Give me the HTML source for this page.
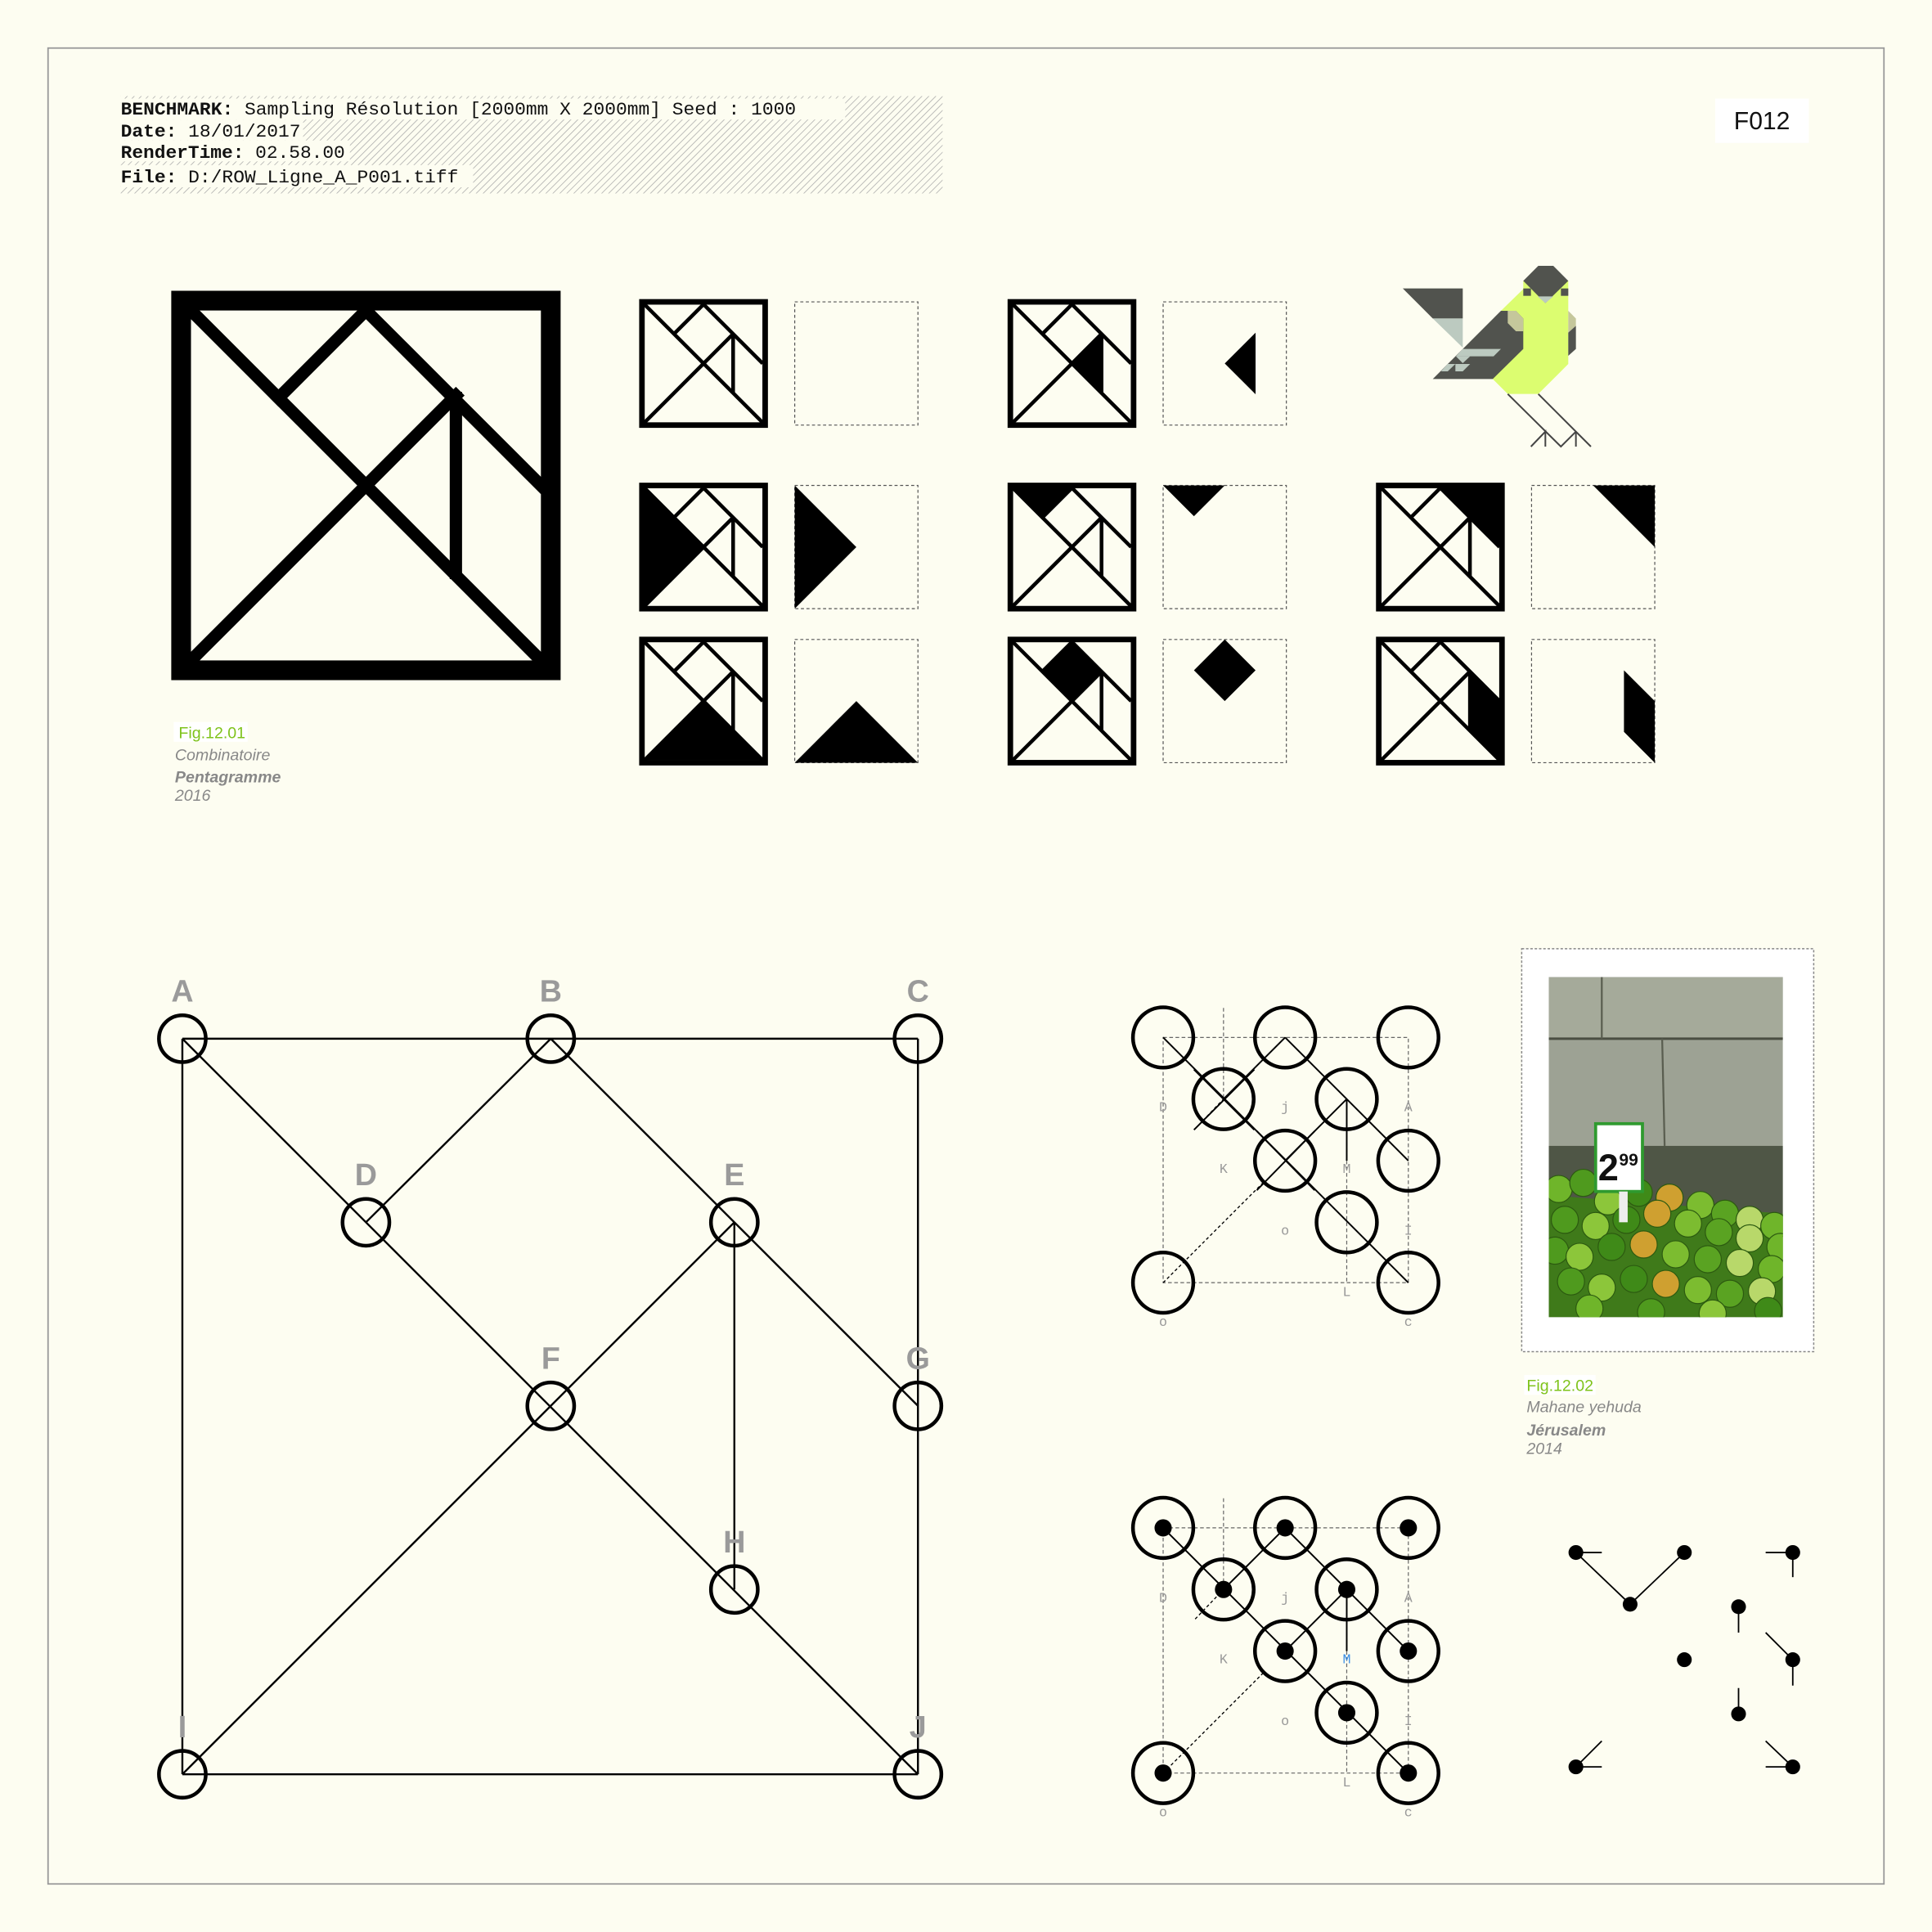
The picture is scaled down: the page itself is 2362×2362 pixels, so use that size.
<!DOCTYPE html>
<html><head><meta charset="utf-8"><style>
html,body{margin:0;padding:0;background:#fdfdf1}
svg{display:block}
.mono{font-family:"Liberation Mono",monospace}
.nar{font-family:"Liberation Sans Narrow","Liberation Sans",sans-serif}
</style></head><body>
<svg id="s" width="2362" height="2362" viewBox="0 0 1568 1568" xmlns="http://www.w3.org/2000/svg">
<defs>
<pattern id="hatch" width="4" height="4" patternUnits="userSpaceOnUse" patternTransform="rotate(45)">
<rect width="4" height="4" fill="#fdfdf1"/><line x1="0" y1="0" x2="0" y2="4" stroke="#aaa" stroke-width="1"/>
</pattern>
<clipPath id="photoclip"><rect x="1257" y="793" width="190" height="276"/></clipPath>
</defs>
<rect x="0" y="0" width="1568" height="1568" fill="#fdfdf1"/>
<rect x="39" y="39" width="1490" height="1490" fill="none" stroke="#9a9a9a" stroke-width="1.2"/>

<g>
<rect x="98" y="78" width="667" height="79" fill="url(#hatch)"/>
<rect x="98" y="80" width="588" height="17" fill="#fdfdf1"/>
<rect x="98" y="97" width="148" height="17" fill="#fdfdf1"/>
<rect x="98" y="114" width="186" height="17" fill="#fdfdf1"/>
<rect x="98" y="134" width="286" height="18" fill="#fdfdf1"/>
<g class="mono" font-size="14.5" fill="#111">
<text x="98" y="93" textLength="548" lengthAdjust="spacingAndGlyphs"><tspan font-weight="bold">BENCHMARK:</tspan> Sampling Résolution [2000mm X 2000mm] Seed : 1000</text>
<text x="98" y="111" textLength="146" lengthAdjust="spacingAndGlyphs"><tspan font-weight="bold">Date:</tspan> 18/01/2017</text>
<text x="98" y="128" textLength="182" lengthAdjust="spacingAndGlyphs"><tspan font-weight="bold">RenderTime:</tspan> 02.58.00</text>
<text x="98" y="148" textLength="274" lengthAdjust="spacingAndGlyphs"><tspan font-weight="bold">File:</tspan> D:/ROW_Ligne_A_P001.tiff</text>
</g>
</g>
<rect x="1392" y="80" width="76" height="36" fill="#fff"/>
<text x="1430" y="105" text-anchor="middle" class="nar" font-size="20" fill="#111">F012</text>

<g id="bigtangram">
<rect x="147" y="244" width="300" height="300" fill="none" stroke="#000" stroke-width="16"/>
<g stroke="#000" stroke-width="10" fill="none" stroke-linecap="square">
<line x1="155" y1="252" x2="439" y2="536"/>
<line x1="155" y1="536" x2="370" y2="321"/>
<line x1="226" y1="323" x2="297" y2="252"/>
<line x1="297" y1="252" x2="439" y2="394"/>
<line x1="370" y1="323" x2="370" y2="465"/>
</g>
</g>

<g class="nar">
<rect x="141" y="586" width="60" height="16" fill="#fff"/>
<text x="145" y="599" font-size="13" fill="#7fc31c">Fig.12.01</text>
<text x="142" y="617" font-size="13" font-style="italic" fill="#888">Combinatoire</text>
<text x="142" y="635" font-size="13" font-style="italic" font-weight="bold" fill="#888">Pentagramme</text>
<text x="142" y="650" font-size="13" font-style="italic" fill="#888">2016</text>
</g>
<g id="icons"></g>

<g transform="scale(0.66384) translate(1700,300) scale(0.33333)">
<polygon points="45,158 265,158 265,268 155,268" fill="#51534e"/>
<polygon points="155,268 265,268 265,375" fill="#bccac0"/>
<polygon points="405,240 487,160 487,130 652,130 652,435 542,545 430,545 375,490" fill="#dcfd70"/>
<polygon points="487,130 542,75 597,75 652,130 568,212" fill="#51534e"/>
<polygon points="540,187 597,187 568,212" fill="#bccac0"/>
<rect x="487" y="158" width="28" height="27" fill="#51534e"/>
<rect x="625" y="158" width="27" height="27" fill="#51534e"/>
<polygon points="155,490 405,240 460,240 487,268 487,380 375,490" fill="#51534e"/>
<polygon points="430,240 460,240 487,268 487,315 460,315 430,285" fill="#c5c79b"/>
<polygon points="652,240 680,268 680,295 652,320" fill="#c5c79b"/>
<polygon points="652,320 680,295 680,380 652,405" fill="#51534e"/>
<polygon points="265,380 405,380 378,407 240,407" fill="#bccac0"/>
<polygon points="240,407 292,407 265,432" fill="#bccac0"/>
<polygon points="210,435 238,435 210,462 185,462" fill="#bccac0"/>
<polygon points="238,435 292,435 265,462 238,462" fill="#bccac0"/>
<g stroke="#444" stroke-width="6" fill="none">
<polyline points="430,545 625,738 680,683"/>
<line x1="542" y1="545" x2="735" y2="738"/>
<polyline points="515,738 568,683 568,738"/>
<line x1="680" y1="683" x2="680" y2="738"/>
</g>
</g>

<g id="graph"></g>
<g id="mini1"></g>
<g id="mini2"></g>

<g>
<rect x="1235" y="770" width="237" height="327" fill="#fff" stroke="#888" stroke-width="1" stroke-dasharray="2,1.5"/>
<g clip-path="url(#photoclip)">
<rect x="1257" y="793" width="190" height="276" fill="#9da294"/>
<rect x="1257" y="793" width="190" height="50" fill="#a5aa9a"/>
<line x1="1257" y1="843" x2="1447" y2="843" stroke="#4a4e42" stroke-width="2"/>
<line x1="1349" y1="843" x2="1351" y2="930" stroke="#5a5e50" stroke-width="1.5"/>
<line x1="1300" y1="793" x2="1300" y2="843" stroke="#5a5e50" stroke-width="1.5"/>
<rect x="1257" y="930" width="190" height="70" fill="#4f5646"/>
<polygon points="1257,970 1447,985 1447,1069 1257,1069" fill="#3f7a1a"/>
<g id="apples"></g>
<rect x="1295" y="912" width="38" height="55" fill="#fff" stroke="#2f9a2f" stroke-width="2.5"/>
<text x="1297" y="958" font-family="Liberation Sans" font-weight="bold" font-size="30" fill="#111">2</text>
<text x="1314" y="946" font-family="Liberation Sans" font-weight="bold" font-size="14" fill="#111">99</text>
<rect x="1314" y="967" width="7" height="25" fill="#eee"/>
</g>
</g>
<g class="nar">
<rect x="1237" y="1116" width="58" height="16" fill="#fff"/>
<text x="1239" y="1129" font-size="13" fill="#7fc31c">Fig.12.02</text>
<text x="1239" y="1146" font-size="13" font-style="italic" fill="#888">Mahane yehuda</text>
<text x="1239" y="1165" font-size="13" font-style="italic" font-weight="bold" fill="#888">Jérusalem</text>
<text x="1239" y="1180" font-size="13" font-style="italic" fill="#888">2014</text>
</g>
<g id="dots"></g>
</svg>
<script>
var NS="http://www.w3.org/2000/svg";
function mk(p,t,a){var e=document.createElementNS(NS,t);for(var k in a)e.setAttribute(k,a[k]);p.appendChild(e);return e;}
// tangram icons
var icols=[519,818,1117], irows=[243,392,517];
var iconFills=[[null,"tri-small",null],["tri-left","tri-top","tri-topright"],["tri-bottom","square","para"]];
var shapes={"tri-small":[[.5,.5],[.75,.25],[.75,.75]],"tri-left":[[0,0],[.5,.5],[0,1]],"tri-top":[[0,0],[.5,0],[.25,.25]],"tri-topright":[[.5,0],[1,0],[1,.5]],"tri-bottom":[[0,1],[.5,.5],[1,1]],"square":[[.25,.25],[.5,0],[.75,.25],[.5,.5]],"para":[[.75,.25],[1,.5],[1,1],[.75,.75]]};
var icons=document.getElementById('icons');
for(var r=0;r<3;r++)for(var c=0;c<3;c++){
 if(r==0&&c==2)continue;
 var x0=icols[c],y0=irows[r],f=iconFills[r][c];
 var g=mk(icons,'g',{});
 
 
 var ox=x0+4,oy=y0+4,s=96;
 function P(pt,bx,by,ss){return (bx+pt[0]*ss)+','+(by+pt[1]*ss);}
 if(f)mk(g,'polygon',{points:shapes[f].map(function(p){return P(p,ox,oy,s)}).join(' '),fill:'#000'});
 mk(g,'rect',{x:x0+2,y:y0+2,width:100,height:100,fill:'none',stroke:'#000','stroke-width':4.5});
 var L=[[[0,0],[1,1]],[[0,1],[.75,.25]],[[.25,.25],[.5,0]],[[.5,0],[1,.5]],[[.75,.25],[.75,.75]]];
 L.forEach(function(l){mk(g,'line',{x1:ox+l[0][0]*s,y1:oy+l[0][1]*s,x2:ox+l[1][0]*s,y2:oy+l[1][1]*s,stroke:'#000','stroke-width':3});});
 var d=mk(icons,'g',{});
 
 
 var dx=x0+126,dy=y0+2;
 mk(d,'rect',{x:dx,y:dy,width:100,height:100,fill:'none',stroke:'#555','stroke-width':0.8,'stroke-dasharray':'2.5,2'});
 if(f){var pts=shapes[f];if(f=="tri-small")pts=[[.5,.5],[.75,.25],[.75,.75]];
  mk(d,'polygon',{points:pts.map(function(p){return P(p,dx,dy,100)}).join(' '),fill:'#000'});}
}
// node graph
var nodeNames=["A","B","C","D","E","F","G","H","I","J"];
var nodeX=[148,447,745,297,596,447,745,596,148,745];
var nodeY=[843,843,843,992,992,1141,1141,1290,1440,1440];
var edges=[["A","C"],["C","J"],["J","I"],["I","A"],["A","J"],["B","D"],["B","G"],["E","I"],["E","H"]];
var gr=document.getElementById('graph');
function idx(n){return nodeNames.indexOf(n);}
edges.forEach(function(e){var a=idx(e[0]),b=idx(e[1]);
 var l=mk(gr,'line',{x1:nodeX[a],y1:nodeY[a],x2:nodeX[b],y2:nodeY[b],stroke:'#000','stroke-width':1.6});
 
 });
nodeNames.forEach(function(n,i){
 var c=mk(gr,'circle',{cx:nodeX[i],cy:nodeY[i],r:19,fill:'none',stroke:'#000','stroke-width':3});
 
 
 var t=mk(gr,'text',{x:nodeX[i],y:nodeY[i]-30,'text-anchor':'middle','font-family':'Liberation Sans','font-weight':'bold','font-size':25,fill:'#9a9a9a'});
 t.textContent=n;
 
 });
// mini circle grids
var mx=[944,1043,1143,993,1093,1043,1143,1093,944,1143];
var my=[0,0,0,50,50,100,100,150,199,199];
var lbl=["D","j","A","K","M","o","I","L","o","c"];
var lx=[944,1043,1143,993,1093,1043,1143,1093,944,1143];
var ly=[56,56,56,106,106,156,156,206,230,230];
function mini(id,oy,filled){
 var g=document.getElementById(id);
 mk(g,'rect',{x:944,y:842+oy,width:199,height:199,fill:'none',stroke:'#666','stroke-width':0.8,'stroke-dasharray':'3,2'});
 mk(g,'line',{x1:993,y1:818+oy,x2:993,y2:892+oy,stroke:'#666','stroke-width':0.8,'stroke-dasharray':'3,2'});
 mk(g,'line',{x1:1093,y1:892+oy,x2:1093,y2:1041+oy,stroke:'#666','stroke-width':0.8,'stroke-dasharray':'3,2'});
 mk(g,'line',{x1:944,y1:1041+oy,x2:1025,y2:960+oy,stroke:'#000','stroke-width':0.9,'stroke-dasharray':'2.5,2'});
 mk(g,'line',{x1:970,y1:916+oy,x2:993,y2:892+oy,stroke:'#000','stroke-width':0.9,'stroke-dasharray':'2.5,2'});
 [[944,842,1143,1041],[993,892,1043,842],[1043,842,1093,892],[1043,942,1093,892],[1093,892,1143,942],[1093,892,1093,942]].forEach(function(s){
  mk(g,'line',{x1:s[0],y1:s[1]+oy,x2:s[2],y2:s[3]+oy,stroke:'#000','stroke-width':1.3});});
 if(!filled){mk(g,'line',{x1:1043,y1:842+oy,x2:1043,y2:842+oy,stroke:'#000'});
  [[969,868,1018,917],[1018,868,969,917],[1020,918,1067,966],[1067,918,1020,966]].forEach(function(s){
   mk(g,'line',{x1:s[0],y1:s[1]+oy,x2:s[2],y2:s[3]+oy,stroke:'#000','stroke-width':1.3});});}
 for(var i=0;i<mx.length;i++){
  var c=mk(g,'circle',{cx:mx[i],cy:842+my[i]+oy,r:24.5,fill:'none',stroke:'#000','stroke-width':3});
  
  
  if(filled){var d=mk(g,'circle',{cx:mx[i],cy:842+my[i]+oy,r:7,fill:'#000'});
   
   }
  var t=mk(g,'text',{x:lx[i],y:842+ly[i]+oy-56+60,'text-anchor':'middle','font-family':'Liberation Mono','font-size':11,fill:(filled&&lbl[i]=="M")?'#3a8ee6':'#999'});
  t.textContent=lbl[i];
  
  }
}
mini('mini1',0,false);mini('mini2',398,true);
// apples
var ap=document.getElementById('apples');
var ax=[1265,1285,1305,1330,1355,1380,1400,1420,1440,1270,1295,1320,1345,1370,1395,1420,1445,1262,1282,1308,1334,1360,1386,1412,1438,1275,1300,1326,1352,1378,1404,1430,1290,1340,1390,1435];
var ay=[965,960,975,968,972,978,985,990,995,990,995,990,985,993,1000,1005,1012,1015,1020,1012,1010,1018,1022,1025,1030,1040,1045,1038,1042,1047,1050,1048,1062,1065,1066,1064];
var acol=["#6fb52a","#4f9a1e","#8cc63a","#3f8a18","#cfa030","#7cbc30","#5aa322","#b8d86a"];
for(var i=0;i<ax.length;i++){var a=mk(ap,'circle',{cx:ax[i],cy:ay[i],r:11,fill:acol[i%acol.length],stroke:'#2c5a10','stroke-width':0.8});
 
 }
// dots
var dg=document.getElementById('dots');
var dX=[1279,1367,1323,1455,1411,1367,1455,1411,1279,1455];
var dY=[1260,1260,1302,1260,1304,1347,1347,1391,1434,1434];
[[1279,1260,1323,1302],[1323,1302,1367,1260],[1279,1260,1300,1260],[1455,1260,1433,1260],[1455,1260,1455,1280],[1411,1304,1411,1325],[1433,1325,1455,1347],[1455,1347,1455,1368],[1411,1391,1411,1370],[1279,1434,1300,1434],[1279,1434,1300,1413],[1433,1413,1455,1434],[1433,1434,1455,1434]].forEach(function(s){
 mk(dg,'line',{x1:s[0],y1:s[1],x2:s[2],y2:s[3],stroke:'#000','stroke-width':1.2});});
for(var i=0;i<dX.length;i++){var c=mk(dg,'circle',{cx:dX[i],cy:dY[i],r:6,fill:'#000'});
 
 }
</script>
</body></html>
